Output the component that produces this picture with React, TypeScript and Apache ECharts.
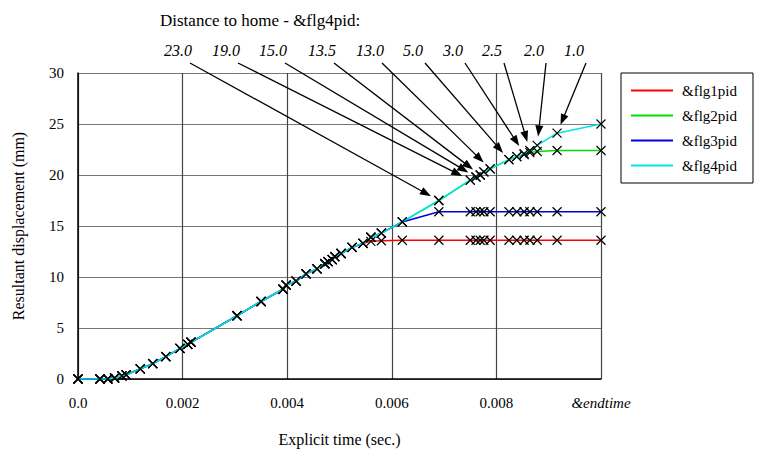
import { useEffect, useRef } from "react";
import * as echarts from "echarts";

const EARLY_T = [0, 0.00042, 0.00057, 0.0007, 0.00084, 0.00092, 0.00119, 0.00143, 0.00168, 0.00195, 0.0021, 0.00216, 0.00304, 0.0035, 0.00392, 0.00398, 0.00417, 0.00436, 0.00457, 0.00472, 0.00478, 0.00486, 0.00491, 0.00503, 0.00524];
const EARLY_V = [0, 0, 0, 0.1, 0.3, 0.4, 1.0, 1.5, 2.2, 3.0, 3.4, 3.6, 6.2, 7.6, 8.8, 9.2, 9.6, 10.3, 10.8, 11.3, 11.5, 11.7, 12.0, 12.3, 12.9];
const MID_T = [0.00545, 0.0056, 0.0058];
const MID_FLG1 = [13.3, 13.5, 13.55];
const MID_OTHER = [13.3, 13.9, 14.3];
const LATE_T = [0.0062, 0.0069, 0.0075, 0.00761, 0.00769, 0.00776, 0.00788, 0.00824, 0.00839, 0.00853, 0.00864, 0.00878, 0.00916, 0.01];
const FLG1 = [13.6, 13.6, 13.6, 13.6, 13.6, 13.6, 13.6, 13.6, 13.6, 13.6, 13.6, 13.6, 13.6, 13.6];
const FLG2 = [15.4, 17.5, 19.5, 19.8, 20.0, 20.3, 20.6, 21.5, 21.8, 22.0, 22.2, 22.3, 22.4, 22.4];
const FLG3 = [15.4, 16.4, 16.4, 16.4, 16.4, 16.4, 16.4, 16.4, 16.4, 16.4, 16.4, 16.4, 16.4, 16.4];
const FLG4 = [15.4, 17.5, 19.5, 19.8, 20.0, 20.3, 20.6, 21.5, 21.8, 22.1, 22.4, 22.9, 24.1, 25.0];
const NAMES = ["&flg1pid", "&flg2pid", "&flg3pid", "&flg4pid"];
const COLORS = ["#ff0000", "#00e000", "#0000e0", "#00e5e5"];

// distance labels and the flg4 time they point at
const DIST_LABELS = ["23.0", "19.0", "15.0", "13.5", "13.0", "5.0", "3.0", "2.5", "2.0", "1.0"];
const DIST_LABEL_X = [178, 226, 273, 322, 370, 413, 453, 492, 534, 574];
const DIST_TARGET_T = [0.0069, 0.0075, 0.00761, 0.00769, 0.00788, 0.00824, 0.00853, 0.00864, 0.00878, 0.00916];

const FONT = "Liberation Serif";

function build(mid: number[], late: number[]) {
  const t = [...EARLY_T, ...MID_T, ...LATE_T];
  const v = [...EARLY_V, ...mid, ...late];
  return t.map((x, i) => [x, v[i]]);
}

export default function App() {
  const ref = useRef<HTMLDivElement | null>(null);

  useEffect(() => {
    if (!ref.current) return;
    const chart = echarts.init(ref.current, undefined, { renderer: "svg" });
    const data = [build(MID_FLG1, FLG1), build(MID_OTHER, FLG2), build(MID_OTHER, FLG3), build(MID_OTHER, FLG4)];

    chart.setOption({
      animation: false,
      backgroundColor: "#fff",
      textStyle: { fontFamily: FONT },
      grid: { left: 78, top: 73, width: 523, height: 306, containLabel: false },
      legend: {
        orient: "vertical",
        left: 621,
        top: 73,
        width: 120,
        padding: [10, 16, 10, 10],
        borderColor: "#000",
        borderWidth: 1,
        itemWidth: 42,
        itemHeight: 2,
        itemGap: 10,
        icon: "rect",
        textStyle: { fontFamily: FONT, fontSize: 15, color: "#000", padding: [0, 0, 0, 4] },
        data: NAMES.map((name, i) => ({ name, itemStyle: { color: COLORS[i], borderWidth: 0 } })),
      },
      xAxis: {
        type: "value",
        min: 0,
        max: 0.01,
        interval: 0.002,
        name: "Explicit time (sec.)",
        nameLocation: "middle",
        nameGap: 52,
        nameTextStyle: { fontFamily: FONT, fontSize: 16, color: "#000" },
        axisLine: { lineStyle: { color: "#000", width: 1.5 } },
        axisTick: { show: false },
        axisLabel: {
          color: "#000",
          fontSize: 15,
          fontFamily: FONT,
          margin: 16,
          formatter: (val: number) => (val === 0 ? "0.0" : val >= 0.0099 ? "{i|&endtime}" : String(+val.toFixed(3))),
          rich: { i: { fontStyle: "italic", fontSize: 15, fontFamily: FONT, color: "#000" } },
        },
        splitLine: { lineStyle: { color: "#444", width: 1.2 } },
      },
      yAxis: {
        type: "value",
        min: 0,
        max: 30,
        interval: 5,
        name: "Resultant displacement (mm)",
        nameLocation: "middle",
        nameGap: 52,
        nameTextStyle: { fontFamily: FONT, fontSize: 16, color: "#000" },
        axisLine: { show: true, lineStyle: { color: "#000", width: 1.5 } },
        axisTick: { show: false },
        axisLabel: { color: "#000", fontSize: 15, fontFamily: FONT, margin: 14 },
        splitLine: { lineStyle: { color: "#777", width: 1.2 } },
      },
      series: NAMES.map((name, i) => ({
        name,
        type: "line",
        data: data[i],
        color: COLORS[i],
        lineStyle: { color: COLORS[i], width: 1.5 },
        symbol: "path://M0,0L10,10M10,0L0,10",
        symbolSize: 9,
        itemStyle: { color: "none", borderColor: "#000", borderWidth: 1.2 },
        z: 2 + i,
      })),
    });

    const graphics: any[] = [
      {
        type: "text",
        left: 160,
        top: 12,
        style: { text: "Distance to home - &flg4pid:", font: `17px '${FONT}'`, fill: "#000" },
      },
    ];
    DIST_LABELS.forEach((lab, i) => {
      graphics.push({
        type: "text",
        x: DIST_LABEL_X[i],
        y: 50,
        style: { text: lab, font: `italic 16px '${FONT}'`, fill: "#000", align: "center", verticalAlign: "middle" },
      });
      const k = LATE_T.indexOf(DIST_TARGET_T[i]);
      const p = chart.convertToPixel({ xAxisIndex: 0, yAxisIndex: 0 }, [LATE_T[k], FLG4[k]]) as number[];
      const sx = DIST_LABEL_X[i] + 12;
      const sy = 63;
      const dx = p[0] - sx;
      const dy = p[1] - sy;
      const len = Math.hypot(dx, dy);
      const ux = dx / len;
      const uy = dy / len;
      const ex = p[0] - ux * 9;
      const ey = p[1] - uy * 9;
      graphics.push({
        type: "line",
        shape: { x1: sx, y1: sy, x2: ex - ux * 6, y2: ey - uy * 6 },
        style: { stroke: "#000", lineWidth: 1.3 },
      });
      const bx = ex - ux * 11;
      const by = ey - uy * 11;
      graphics.push({
        type: "polygon",
        shape: { points: [[ex, ey], [bx - uy * 4, by + ux * 4], [bx + uy * 4, by - ux * 4]] },
        style: { fill: "#000" },
      });
    });
    chart.setOption({ graphic: graphics });

    return () => chart.dispose();
  }, []);

  return <div ref={ref} style={{ position: "fixed", left: 0, top: 0, width: 782, height: 454 }} />;
}
